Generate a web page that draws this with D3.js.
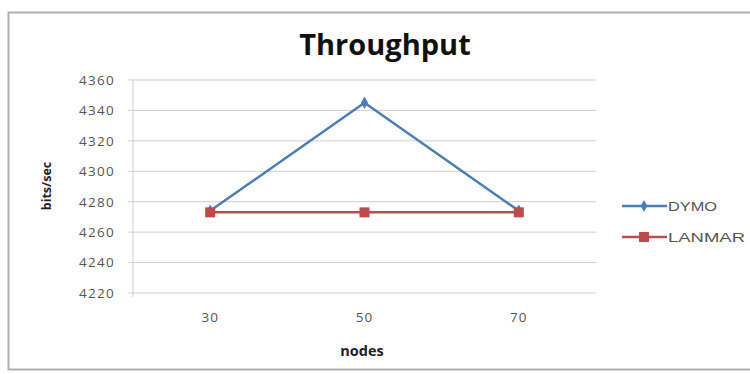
<!DOCTYPE html>
<html><head><meta charset="utf-8">
<script src="https://cdn.jsdelivr.net/npm/d3@7"></script>
<style>body{margin:0;background:#fff}svg{display:block}</style>
</head><body>
<svg id="c" width="750" height="374"></svg>
<script>
const categories = ["30", "50", "70"];
const dymo = [4274, 4345, 4274];
const lanmar = [4273, 4273, 4273];
const yTicks = [4220, 4240, 4260, 4280, 4300, 4320, 4340, 4360];
const seriesNames = ["DYMO", "LANMAR"];
const colors = ["#4a7ebb", "#be4b48"];

const svg = d3.select("#c");
const font = "'Open Sans', 'DejaVu Sans', sans-serif";

svg.append("rect").attr("x", 8.5).attr("y", 12.5).attr("width", 760).attr("height", 357)
  .attr("fill", "#fff").attr("stroke", "#b0b0b0").attr("stroke-width", 2);

const L = 133, R = 596, T = 80, B = 293;
const x = d3.scaleBand().domain(categories).range([L, R]);
const y = d3.scaleLinear().domain([4220, 4360]).range([B, T]);

const g = svg.append("g");
g.selectAll(".grid").data(yTicks).enter().append("line")
  .attr("x1", L - 5).attr("x2", R).attr("y1", d => y(d)).attr("y2", d => y(d))
  .attr("stroke", "#cfcfcf").attr("stroke-width", 1);
g.append("line").attr("x1", L).attr("x2", L).attr("y1", T).attr("y2", B + 4)
  .attr("stroke", "#cfcfcf");

const yAxis = d3.axisLeft(y).tickValues(yTicks).tickSize(0).tickPadding(18).tickFormat(d3.format("d"));
const ya = g.append("g").attr("transform", `translate(${L},0)`).call(yAxis);
ya.select(".domain").remove();
ya.selectAll("text").attr("font-family", font).attr("font-size", 13.5).attr("letter-spacing", 1.3).attr("fill", "#555");

const xAxis = d3.axisBottom(x).tickSize(0).tickPadding(19);
const xa = g.append("g").attr("transform", `translate(0,${B})`).call(xAxis);
xa.select(".domain").remove();
xa.selectAll("text").attr("font-family", font).attr("font-size", 13.5).attr("letter-spacing", 1).attr("fill", "#555");

svg.append("text").attr("x", 385).attr("y", 55).attr("text-anchor", "middle")
  .attr("font-family", font).attr("font-weight", "bold").attr("font-size", 29).attr("fill", "#111").text("Throughput");
svg.append("text").attr("transform", "translate(51,186) rotate(-90)").attr("text-anchor", "middle")
  .attr("font-family", font).attr("font-weight", "bold").attr("font-size", 12.5).attr("fill", "#222").text("bits/sec");
svg.append("text").attr("x", 362).attr("y", 356).attr("text-anchor", "middle")
  .attr("font-family", font).attr("font-weight", "bold").attr("font-size", 14.5).attr("fill", "#222").text("nodes");

const line = d3.line().x((d, i) => x(categories[i]) + x.bandwidth() / 2).y(d => y(d));
const data = [dymo, lanmar];
data.forEach((s, k) => {
  g.append("path").datum(s).attr("d", line).attr("fill", "none")
    .attr("stroke", colors[k]).attr("stroke-width", 2.5);
});
g.selectAll(".dm").data(dymo).enter().append("path")
  .attr("transform", (d, i) => `translate(${x(categories[i]) + x.bandwidth() / 2},${y(d)})`)
  .attr("d", d3.symbol(d3.symbolDiamond, 45)).attr("fill", colors[0]);
g.selectAll(".lm").data(lanmar).enter().append("rect")
  .attr("x", (d, i) => x(categories[i]) + x.bandwidth() / 2 - 5).attr("y", d => y(d) - 5)
  .attr("width", 10).attr("height", 10).attr("fill", colors[1]);

const legW = [49, 77];
const leg = svg.append("g");
seriesNames.forEach((n, k) => {
  const ly = 206 + k * 31;
  leg.append("line").attr("x1", 622).attr("x2", 667).attr("y1", ly).attr("y2", ly)
    .attr("stroke", colors[k]).attr("stroke-width", 2.5);
  if (k === 0) leg.append("path").attr("transform", `translate(644,${ly})`)
    .attr("d", d3.symbol(d3.symbolDiamond, 40)).attr("fill", colors[0]);
  else leg.append("rect").attr("x", 639).attr("y", ly - 5).attr("width", 10).attr("height", 10).attr("fill", colors[1]);
  leg.append("text").attr("x", 668).attr("y", ly + 5).attr("font-family", "'Liberation Sans', sans-serif")
    .attr("font-size", 13).attr("fill", "#555").attr("textLength", legW[k]).attr("lengthAdjust", "spacingAndGlyphs").text(n);
});
</script>
</body></html>
